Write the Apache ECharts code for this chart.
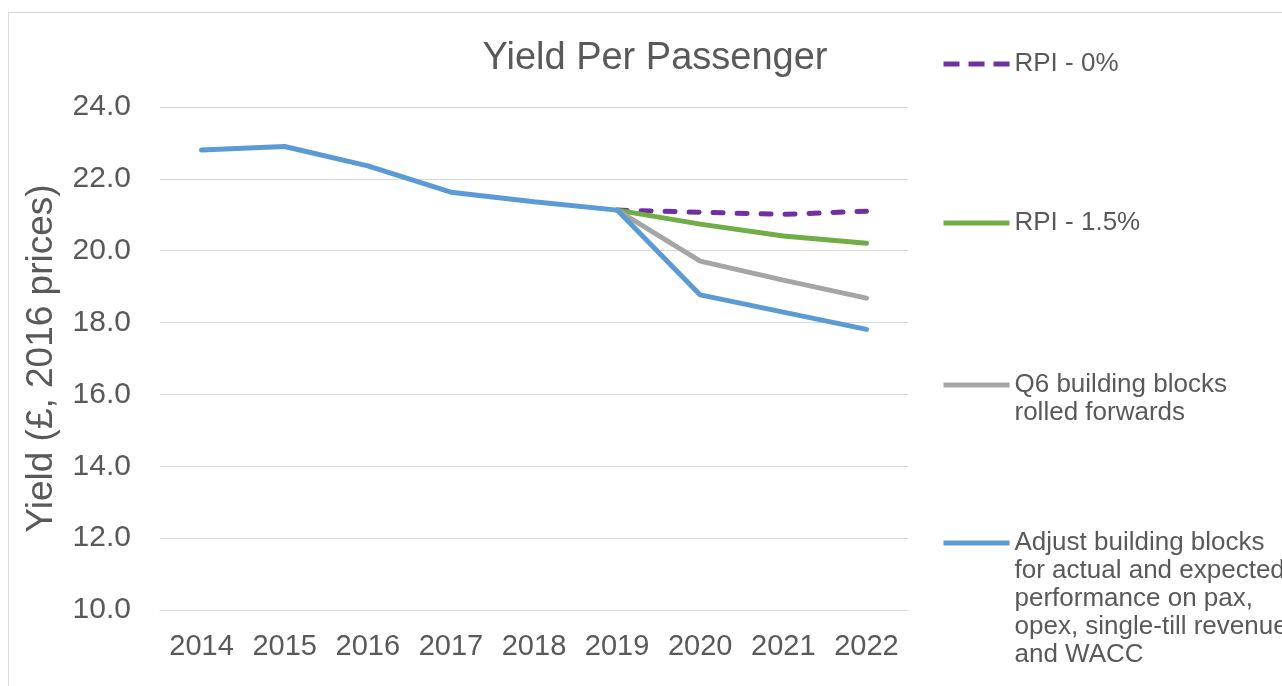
<!DOCTYPE html>
<html>
<head>
<meta charset="utf-8">
<script src="https://cdn.jsdelivr.net/npm/echarts@6/dist/echarts.min.js"></script>
<style>
html,body{margin:0;padding:0;background:#fff;}
#frame{position:absolute;left:8px;top:12px;width:1290px;height:690px;border:1px solid #d9d9d9;box-sizing:border-box;}
#chart{position:absolute;left:0;top:0;width:1282px;height:686px;}
</style>
</head>
<body>
<div id="frame"></div>
<div id="chart"></div>
<script>
const years = ['2014','2015','2016','2017','2018','2019','2020','2021','2022'];
const rpi0 = [null, null, null, null, null, 21.13, 21.07, 21.01, 21.10];
const rpi15 = [null, null, null, null, null, 21.13, 20.74, 20.41, 20.21];
const q6 = [null, null, null, null, null, 21.13, 19.71, 19.18, 18.68];
const adjusted = [22.80, 22.90, 22.36, 21.63, 21.36, 21.13, 18.77, 18.29, 17.81];
const seriesNames = ['RPI - 0%', 'RPI - 1.5%', 'Q6 building blocks\nrolled forwards',
  'Adjust building blocks\nfor actual and expected\nperformance on pax,\nopex, single-till revenue\nand WACC'];
const yTicks = {min: 10, max: 24, interval: 2};

const font = 'Liberation Sans, Arial, sans-serif';
const chart = echarts.init(document.getElementById('chart'), null, {renderer: 'canvas'});
const colors = ['#7030A0', '#70AD47', '#A5A5A5', '#5B9BD5'];
const firstLineY = [64, 223, 385, 543];
const lh = 28;
function legendFor(i) {
  const lines = seriesNames[i].split('\n').length;
  return {
    data: [seriesNames[i]],
    left: 941,
    top: firstLineY[i] - (2 * lines - 1) * lh / 2,
    orient: 'vertical',
    itemWidth: 66,
    itemHeight: 14,
    itemGap: 0,
    padding: 0,
    selectedMode: false,
    formatter: name => '\n'.repeat(lines - 1) + name,
    itemStyle: {color: 'rgba(0,0,0,0)', borderColor: 'rgba(0,0,0,0)', borderWidth: 0},
    lineStyle: {width: 5, type: i === 0 ? [16, 9] : 'solid', cap: 'butt'},
    textStyle: {fontFamily: font, fontSize: 26, color: '#595959', lineHeight: lh}
  };
}
const seriesData = [rpi0, rpi15, q6, adjusted];
chart.setOption({
  animation: false,
  title: {
    text: 'Yield Per Passenger', left: 650, top: 35, textAlign: 'center',
    textStyle: {fontFamily: font, fontSize: 38, fontWeight: 'normal', color: '#595959'}
  },
  legend: [0, 1, 2, 3].map(legendFor),
  grid: {left: 160, right: 374, top: 107, bottom: 76, containLabel: false},
  xAxis: {
    type: 'category', data: years, boundaryGap: true,
    axisLine: {lineStyle: {color: '#d9d9d9', width: 1}},
    axisTick: {show: false},
    axisLabel: {fontFamily: font, fontSize: 29, color: '#595959', margin: 22, interval: 0, hideOverlap: false}
  },
  yAxis: {
    type: 'value', min: yTicks.min, max: yTicks.max, interval: yTicks.interval,
    name: 'Yield (£, 2016 prices)', nameLocation: 'middle', nameGap: 100,
    nameTextStyle: {fontFamily: font, fontSize: 37, color: '#595959'},
    axisLine: {show: false}, axisTick: {show: false},
    splitLine: {lineStyle: {color: '#d9d9d9', width: 1}},
    axisLabel: {fontFamily: font, fontSize: 30, color: '#595959', margin: 29,
      formatter: v => v.toFixed(1)}
  },
  series: [0, 1, 2, 3].map(i => ({
    name: seriesNames[i], type: 'line', data: seriesData[i],
    showSymbol: false, symbol: 'none', connectNulls: false,
    lineStyle: {color: colors[i], width: 5, type: i === 0 ? [10, 14] : 'solid', cap: 'round'},
    itemStyle: {color: colors[i]},
    z: i === 3 ? 5 : 2 + i
  }))
});
</script>
</body>
</html>
